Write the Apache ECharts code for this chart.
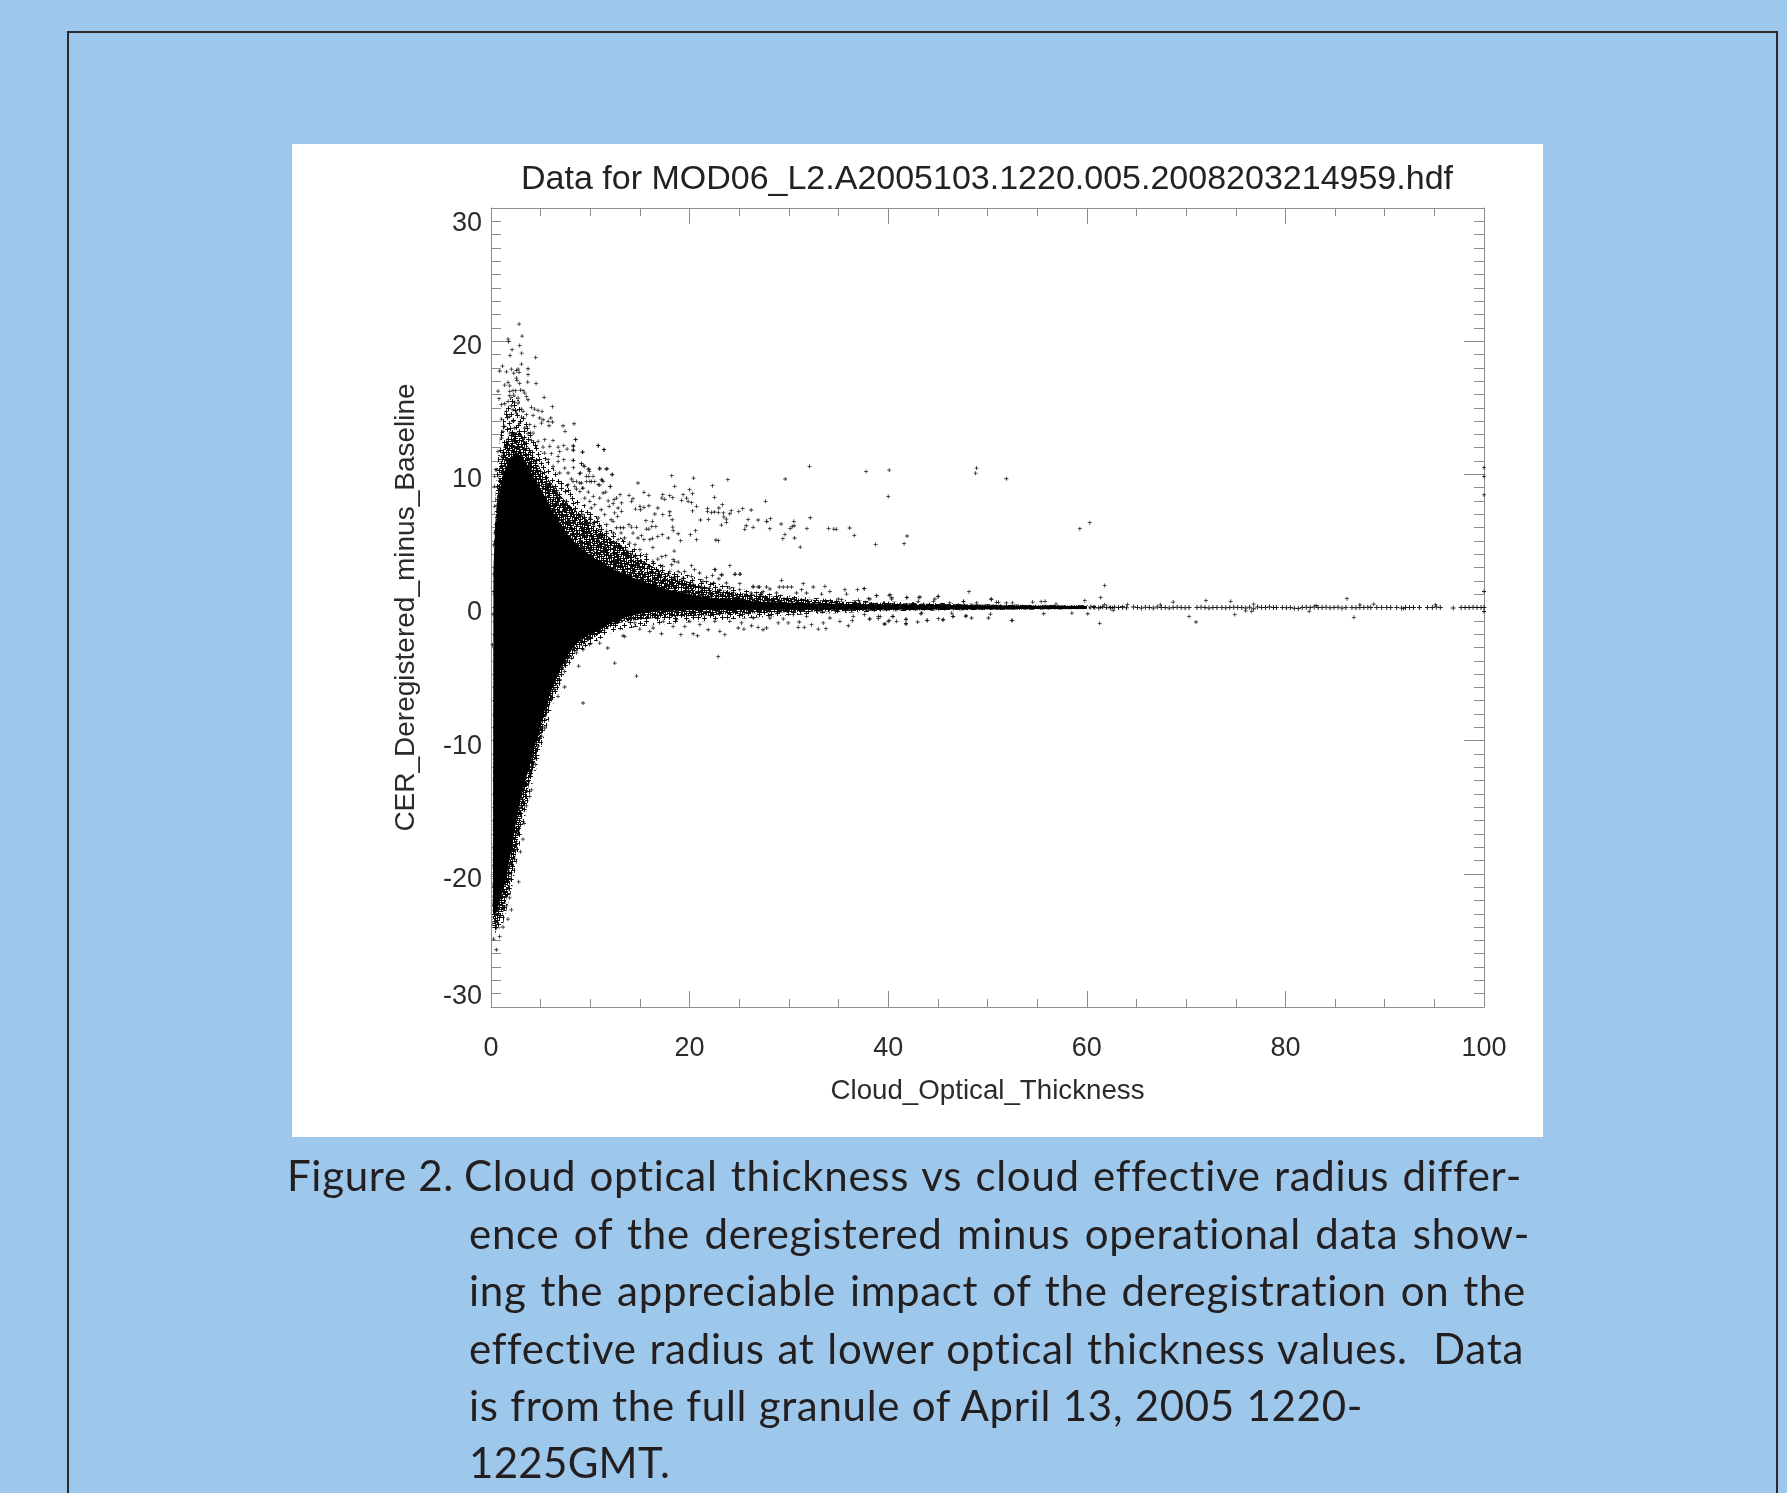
<!DOCTYPE html>
<html>
<head>
    <meta charset="utf-8">
    <title>Figure 2</title>
    <script src="https://cdn.jsdelivr.net/npm/echarts@6/dist/echarts.min.js"></script>
    <style>
        html, body { margin: 0; height: 100%; overflow: hidden; background: #9ec8eb; }
        #frame { position: absolute; left: 67px; top: 31px; width: 1707px; height: 2000px; border: 2px solid #2a2a2e; }
        #paper { position: absolute; left: 292px; top: 144px; width: 1251px; height: 993px; background: #fff; }
        #chart { position: absolute; left: 0; top: 0; width: 1787px; height: 1493px; }
        .cap { position: absolute; font-family: Lato, sans-serif; font-size: 42px; letter-spacing: 0.7px; line-height: 58px; height: 58px; color: #231f20; white-space: pre; }
        .fit { text-align-last: justify; }
    </style>
</head>
<body>
    <div id="frame"></div>
    <div id="paper"></div>
    <div id="chart"></div>
    <div class="cap" style="left:287px;top:1146px">Figure 2.</div>
    <div class="cap fit" style="left:464px;top:1146px;width:1058px">Cloud optical thickness vs cloud effective radius differ-</div>
    <div class="cap fit" style="left:469px;top:1204px;width:1061px">ence of the deregistered minus operational data show-</div>
    <div class="cap fit" style="left:469px;top:1261px;width:1057px">ing the appreciable impact of the deregistration on the</div>
    <div class="cap fit" style="left:469px;top:1319px;width:1055px">effective radius at lower optical thickness values.  Data</div>
    <div class="cap fit" style="left:469px;top:1376px;width:894px">is from the full granule of April 13, 2005 1220-</div>
    <div class="cap" style="left:469px;top:1433px;letter-spacing:0.3px">1225GMT.</div>

    <script>
        const titleText = 'Data for MOD06_L2.A2005103.1220.005.2008203214959.hdf';
        const xName = 'Cloud_Optical_Thickness';
        const yName = 'CER_Deregistered_minus_Baseline';

        // edges of the part of the cloud that is solid black
        const solidUpperX = [0.25, 0.4, 0.7, 1.2, 1.8, 2.4, 3, 3.6, 4.2, 5, 5.6, 6.2, 7, 7.8, 8.6, 9.5, 10.6, 12, 13.5, 15, 16.5, 18, 19.5, 21, 23, 25, 27, 30, 33, 36, 40, 45, 50, 55, 60];
        const solidUpperY = [3, 5.5, 8, 10, 11, 11.6, 11.4, 10.8, 9.9, 8.9, 8.1, 7.2, 6.3, 5.4, 4.7, 4.2, 3.6, 3, 2.45, 2.05, 1.65, 1.32, 1.08, 0.85, 0.65, 0.52, 0.44, 0.36, 0.3, 0.26, 0.22, 0.18, 0.16, 0.14, 0.12];
        const solidLowerX = [0.2, 0.5, 1, 1.5, 2, 2.5, 3, 3.5, 4, 4.5, 5, 5.5, 6, 6.5, 7, 7.6, 8.6, 9.5, 10.5, 12, 13.5, 15, 17, 19, 21, 25, 30, 36, 45, 55, 60];
        const solidLowerY = [-23, -23, -21.8, -20.4, -18.4, -16.2, -14.3, -12.9, -11.6, -10.2, -8.8, -7.5, -6.4, -5.4, -4.6, -3.7, -2.7, -2.2, -1.8, -1.2, -0.75, -0.46, -0.25, -0.2, -0.18, -0.18, -0.17, -0.16, -0.15, -0.12, -0.11];

        // edges of the closely packed zone around it
        const packedUpperX = [0.3, 0.4, 0.8, 1.3, 2, 3, 3.8, 5, 6, 7, 8, 10, 11.3, 13, 14.65, 16, 18, 20, 21.4, 24.7, 28, 32, 36, 40, 45, 50, 60];
        const packedUpperY = [3, 6, 10.2, 12.2, 13.2, 13.1, 12, 10.4, 9.4, 8.4, 7.6, 6.4, 5.6, 4.7, 3.8, 3.2, 2.4, 1.9, 1.55, 1.1, 0.85, 0.6, 0.42, 0.34, 0.26, 0.2, 0.14];
        const packedLowerX = [0.15, 0.5, 1.2, 2.2, 3, 3.8, 4.6, 5.4, 6.2, 7.2, 8.2, 9.5, 10.5, 12, 13, 15, 18, 20, 24, 28, 32, 38, 45, 60];
        const packedLowerY = [-24, -24, -23, -19.8, -16.2, -13.4, -11, -8.6, -6.6, -4.7, -3.5, -2.65, -2.2, -1.5, -1.15, -0.9, -0.7, -0.65, -0.5, -0.4, -0.32, -0.24, -0.18, -0.12];

        // edges of the loose speckled zone outside that
        const looseUpperX = [0.3, 0.6, 1, 1.6, 2.2, 2.8, 3.4, 4, 5, 6, 7, 8, 9, 10, 11, 12, 13, 14, 15, 16, 18, 20, 22, 25, 28, 32, 36, 40, 45, 50, 60, 64];
        const looseUpperY = [6, 10.5, 13.4, 15.4, 16, 15.6, 14.4, 13.2, 11.8, 10.8, 9.8, 9, 8.1, 7.3, 6.6, 5.9, 5.3, 4.7, 4.2, 3.7, 2.9, 2.4, 1.95, 1.4, 1.05, 0.75, 0.55, 0.45, 0.35, 0.25, 0.17, 0.1];
        const looseLowerX = [0.15, 0.5, 1.2, 2.2, 3, 3.8, 4.6, 5.4, 6.2, 7.2, 8.2, 9.5, 10.5, 12, 13, 15, 20, 24, 28, 32, 40, 50, 64];
        const looseLowerY = [-24.4, -24.4, -23.8, -20.8, -17.4, -14.4, -12, -9.6, -7.4, -5.3, -3.9, -3, -2.6, -1.95, -1.7, -1.4, -1.1, -0.9, -0.7, -0.5, -0.28, -0.18, -0.1];

        // single dots
        const topSpeckle = [[2.83,21.28],[3.13,20.38],[1.72,20.16],[1.78,19.96],[2.89,19.68],[2.12,19.36],[3.09,19.1],[1.92,18.93],[4.5,18.78],[1.15,18.13],[3.06,18.28],[2.05,17.9],[2.56,17.8],[2.73,17.9],[0.88,17.76],[1.55,17.7],[2.29,17.6],[2.83,17.66],[3.73,17.93],[3.73,17.48],[2.56,17.23],[2.62,17.05],[3.7,16.93],[4.54,16.83],[2.89,16.83],[1.38,16.7],[1.72,16.9],[0.71,16.25],[1.89,16.65],[1.89,16.23],[2.22,16.28],[2.49,16.28],[2.96,16.33],[3.23,16.28],[3.4,16.1],[1.89,15.9],[2.29,15.95],[2.73,15.73],[3.56,15.85],[3.73,15.6],[5.35,15.78],[0.81,15.68],[1.38,15.3],[1.72,15.48],[2.39,15.4],[2.73,15.35],[1.05,15.23],[2.05,15.15],[6.18,15.08],[4.07,15.03],[4.4,14.9],[4.74,14.8],[5.14,14.73],[3.06,14.9],[3.23,14.73],[2.22,14.85],[1.55,14.73],[2.56,14.6],[3.56,14.48],[4.24,14.43],[1.89,14.35],[3.06,14.3],[1.05,14.15],[4.91,14.23],[5.24,14.1],[6.02,14.23],[5.75,13.98],[6.18,13.93],[5.08,13.85],[5.85,13.65],[8.37,13.8],[7.26,13.65],[2.22,13.98],[2.89,13.85],[3.9,13.73],[4.4,13.6],[1.38,13.6],[3.4,13.48],[2.39,13.48],[7.46,13.23],[4.24,13.1],[3.73,13.05],[1.21,13.23],[1.89,13.1],[2.89,12.98],[8.54,12.63],[1.05,12.73],[5.41,12.6],[6.25,12.55],[4.74,12.48],[4.07,12.55],[7.33,12.17],[8.27,12.15],[10.79,12.17],[11.36,11.85],[6.76,12.05],[5.92,12.1],[5.24,12.05],[8.27,11.83],[7.66,11.9],[9.24,11.67],[6.92,11.72],[6.08,11.55],[5.41,11.6],[6.76,11.35],[0.71,11.72],[1.05,11.35],[7.33,11.1],[8.27,11.05],[6.76,10.97],[5.75,11.1],[9.11,10.8],[9.44,10.6],[9.88,10.35],[9.01,10.1],[7.43,10.47],[11.69,10.42],[10.95,10.4],[12.2,9.97],[6.25,10.6],[7.76,10.1],[6.92,10.1],[9.85,9.85],[10.28,9.85],[9.61,9.47],[10.12,9.47],[8.27,9.47],[8.94,9.35],[8.44,9.1],[11.12,9.6],[11.29,9.47],[10.79,9.22],[12.03,9.07],[7.76,9.22],[9.27,8.97],[0.54,10.35],[0.37,9.85],[0.47,10.35],[0.37,9.1],[0.37,7.6],[0.37,5.6],[0.27,4.7],[0.3,2.5],[0.28,1.2],[0.2,-0.5],[0.15,-2.8]];

        const midSpeckle = [[8.5,12.6],[8.3,12.1],[8.3,11.8],[10.8,12.15],[11.4,11.85],[9.2,11.67],[8.3,11.05],[8.3,10.5],[9.1,10.8],[9.3,10.65],[9.8,10.4],[9.9,10.2],[10.95,10.47],[11.6,10.4],[12.2,10],[8.9,10.05],[9.6,9.85],[9.95,9.47],[10.45,9.47],[11.2,9.55],[10.95,9.2],[12,9.1],[14.8,9.35],[18.2,9.9],[20.4,9.72],[23.85,9.6],[18.5,9.1],[22.3,9.15],[20,8.85],[20.3,8.55],[22.5,8.27],[27.65,7.97],[15.4,8.65],[15.9,8.42],[17.3,8.47],[17.2,8.22],[17.5,8.12],[18,8.4],[18.3,8.25],[19.35,8.47],[19.7,8.22],[19.2,8.05],[19.85,7.97],[20.2,7.87],[20.7,7.6],[20.3,7.25],[21.8,7.42],[21.8,7.2],[22.2,7.14],[22.5,7.17],[22.95,7.47],[23.3,7.72],[22.9,7.14],[23.4,7.1],[23.45,6.8],[24.2,7.27],[24.05,7.04],[24.95,7.2],[25.35,7.42],[26.2,7.32],[21.1,6.57],[21.9,6.6],[23.7,6.64],[23.7,6.39],[23.2,6.19],[25.9,6.6],[26.9,6.57],[27.75,6.47],[25.7,6.14],[25.55,5.87],[26.4,6.02],[13.9,8.42],[14.3,8.17],[14.15,7.97],[14.55,7.39],[15,7.6],[15.05,7.34],[15.4,7.52],[15.9,7.64],[16.8,7.47],[16.5,7.02],[17.3,6.97],[18,7.19],[18,6.92],[18.25,6.59],[15.6,6.52],[16.25,6.47],[16.2,6.09],[16.6,6.09],[15.65,5.89],[15.9,5.89],[18.3,6.04],[18.35,5.77],[20.6,5.77],[18.85,5.54],[20.1,5.47],[16.8,5.34],[17.25,5.47],[17.85,5.22],[19.1,5.02],[20.7,5.09],[22.65,5.07],[22.9,5.02],[12.65,5.99],[13.05,5.99],[13.35,5.99],[13.9,6.22],[14.15,6.04],[14.65,6.02],[14.3,5.59],[13.1,5.6],[15.15,5.39],[14.8,5.22],[15.4,5.09],[16,5.09],[16.25,5.19],[16.3,4.5],[18.45,4.24],[17.6,3.89],[17.2,3.82],[16.8,3.64],[18.35,3.59],[18.85,3.41],[18.2,3.21],[20.2,3.14],[24.05,3.14],[22.6,2.84],[22.3,2.41],[23.25,2.44],[24.55,2.49],[25.05,2.51],[21.7,2.26],[22.95,2.16],[9.8,8.67],[11.3,8.6],[11.55,8.67],[11.8,8],[13,8.47],[12.65,8.22],[12.4,8.1],[13.15,7.85],[12.3,7.8],[12.8,7.47],[11.9,7.6],[13.15,7.22],[12.45,7.1],[12.75,6.84],[12.1,6.59],[12.3,6.47],[11.65,6.22],[10.95,8.22],[10.3,8.35],[10.45,7.72],[9.95,7.97],[9.45,8.22],[8.95,8.72],[8.6,8.9],[9.1,9.35],[8.6,9.47],[8.1,9.65],[9.2,8.97],[10.1,7.47],[11.1,7.34],[11.45,6.97],[10.8,6.72],[9.95,6.72],[9.25,6.97],[10.95,6.09],[10.3,6.34],[11.65,5.72],[12.3,5.59],[11.1,5.34],[11.95,5.09],[12.8,5.09],[13.45,5.22],[13.95,4.84],[14.5,4.72],[13,4.59],[15,4.34],[13.8,4.2],[15.65,3.97],[14.5,3.84],[16.3,3.47],[15.15,3.47],[17.3,3.09],[15.85,3.09],[18,2.71],[18.85,2.71],[19.5,2.71],[20.5,2.84],[21,2.59],[20.2,2.34],[19.35,2.21],[18.35,2.21],[21.35,1.96],[22.4,1.84],[23.7,1.84],[25.05,1.79],[26.4,1.59],[27.05,1.54],[27.75,1.54],[27.4,1.21],[26.2,1.09],[25.05,1.34],[24.05,1.46],[23.05,1.34],[22,1.46],[21.2,1.46],[20.35,1.71]];

        const farSpeckle = [[32.08,10.6],[29.63,9.65],[37.77,10.22],[40.1,10.32],[40,8.34],[48.8,10.09],[48.9,10.47],[51.9,9.67],[59.3,5.92],[60.3,6.37],[27.78,6.47],[28.15,6.67],[28.08,5.92],[29.22,6.27],[30.5,6.47],[30.53,6.14],[30.33,6.09],[30.13,5.94],[32.15,6.74],[31.81,5.94],[34,5.94],[34.53,5.89],[34.77,5.87],[36.12,5.97],[36.58,5.42],[29.6,5.49],[29.39,5.17],[30.57,5.22],[31.14,4.54],[38.73,4.74],[41.6,4.79],[41.9,5.37],[100,10.5],[100,9.85],[100,8.45],[100,1.2],[100,-0.3]];

        const nearZeroUpper = [[18.5,3.47],[22.5,2.84],[24.6,2.51],[25.1,2.51],[23.2,2.46],[29.26,2.04],[31.45,1.79],[26.4,1.54],[26.9,1.54],[29.03,1.54],[29.43,1.54],[29.87,1.54],[30.27,1.54],[32.45,1.54],[33.63,1.59],[36.9,1.34],[37.56,1.41],[48.14,1.19],[34.13,1.21],[35.64,1.34],[28.09,1.39],[31.28,1.34],[27.25,1.09],[28.76,1.09],[30.77,1.09],[31.78,1.09],[33.29,1.01],[35.81,1.01],[38.84,0.89],[40.18,0.96],[41.86,0.76],[43.2,0.79],[45.05,0.84],[40.35,0.64],[50.36,0.64],[44.7,0.64],[43.03,0.46],[34.97,0.64],[35.31,0.59],[36.99,0.54],[38.16,0.64],[47.57,0.46],[51.1,0.39],[46.2,0.34],[48.9,0.34],[51.9,0.34],[37.6,1.41],[61.8,1.66],[61.4,0.76],[59.8,0.51],[50.4,0.61],[72,0.53],[68.7,0.41],[74.5,0.46],[86.2,0.66],[38.8,0.89],[40.1,0.91],[41.9,0.76],[43.1,0.76],[45,0.81],[44.55,0.46],[38,0.66],[40.36,0.76],[47.6,0.44],[50.9,0.39],[52.5,0.34],[54.55,0.41],[55.8,0.46],[55.4,0.44],[56.9,0.26],[61.8,0.21],[64.1,0.21],[67.4,0.2],[83.1,0.15],[76.8,0.25],[87.5,0.2],[88.9,0.25],[95.1,0.2]];

        const nearZeroLower = [[22.88,-3.69],[35.98,-1.37],[13.3,-2.12],[13.47,-2.17],[14.99,-1.62],[15.99,-1.79],[17.17,-1.97],[19.12,-2.04],[20.8,-2.12],[23.55,-2.04],[20.36,-1.97],[21.87,-1.67],[23.05,-1.79],[24.9,-1.54],[25.47,-1.62],[26.9,-1.49],[27.75,-1.54],[26.24,-1.37],[27.4,-1.67],[30.94,-1.49],[31.55,-1.49],[32.96,-1.62],[33.73,-1.59],[32.28,-1.29],[29.93,-1.16],[28.93,-1.16],[31.04,-1.09],[33.46,-1.16],[35.14,-1.04],[36.38,-0.99],[38.16,-0.86],[39.67,-1.24],[40,-1.04],[40.85,-1.04],[41.79,-1.21],[41.79,-0.91],[42.97,-1.09],[43.94,-0.96],[45.05,-0.84],[45.55,-0.91],[47.8,-0.66],[48.4,-0.79],[50.09,-0.79],[52.44,-0.96],[46.56,-0.66],[16.33,-1.54],[18.34,-1.42],[19.52,-1.42],[21.03,-1.29],[24.05,-1.04],[25.23,-1.16],[14.48,-1.16],[17.34,-1.04],[18.68,-0.91],[20.02,-1.04],[22.54,-1.04],[26.41,-0.79],[28.09,-0.79],[29.43,-0.86],[30.44,-0.54],[31.78,-0.66],[34.13,-0.79],[36.48,-0.66],[39,-0.66],[40.5,-0.66],[43.37,-0.41],[39.6,-1.24],[40.1,-0.97],[40.4,-0.67],[38.1,-0.87],[39,-0.84],[41.8,-1.24],[41.8,-0.87],[43.9,-0.97],[45.5,-0.94],[46.5,-0.67],[47.85,-0.62],[50.3,-0.49],[55.66,-0.47],[58.5,-0.42],[60.1,-0.47],[62.65,-0.21],[37.6,-0.54],[39.2,-0.67],[43.3,-0.47],[46.4,-0.42],[52.5,-0.97],[61.3,-1.19],[70.3,-0.67],[71,-1.09],[74.9,-0.52],[86.9,-0.74],[82.4,-0.29],[76.6,-0.29],[76,-0.25],[91.9,-0.09]];

        const lowSpeckle = [[12.46,-4.17],[14.65,-5.15],[9.27,-7.17],[8.83,-4.4],[11.76,-3.04],[7.42,-5.97],[6.75,-6.67],[2.79,-20.6],[2.05,-22.7],[0.54,-25.7],[1.71,-23.4],[0.87,-24.7],[0.27,-24.9],[3.22,-17.4],[2.96,-18.35],[3.9,-14.2],[4.06,-13.7],[4.5,-11.8],[4.74,-10.4],[9.27,-3.17],[8.6,-3.4],[8.1,-3.8],[10.95,-2.67],[9.94,-2.79],[3.33,-16.2],[3.06,-14.9],[3.56,-14.9],[2.55,-16.9],[2.39,-18.9],[1.88,-19.9],[1.88,-21.8],[1.55,-22.4],[1.21,-24],[0.54,-24.05],[5.58,-7.9],[5.41,-9.05],[5.07,-9.67],[6.08,-6.92],[6.42,-6.17],[6.92,-5.42],[7.42,-4.8]];

        // the thin dotted row along zero at high optical thickness
        const zeroRow = [[60.4,0.04],[60.8,0],[61.2,-0.04],[61.6,0.03],[62,0],[62.4,-0.03],[62.8,0.02],[63.2,0],[63.6,0.02],[64,-0.02],[64.7,0.03],[65.1,0],[65.5,-0.03],[65.9,0.02],[66.3,0],[66.7,-0.04],[67.1,0.03],[67.5,0],[67.9,0],[68.3,-0.03],[68.7,0],[69.1,0.02],[69.5,0],[69.9,-0.02],[70.3,0],[71.1,0],[71.5,0.02],[71.9,0],[72.3,-0.03],[72.7,0],[73.1,0],[73.6,0],[74,-0.02],[74.4,0],[74.8,0.02],[75.2,0],[75.6,0],[76,-0.04],[76.4,0.02],[76.8,-0.1],[77.2,0.03],[77.6,0],[78,0],[78.4,0.03],[78.8,0],[79.1,0],[79.7,0],[80.1,-0.02],[80.5,0],[80.9,-0.05],[81.3,-0.07],[81.7,0],[82.1,0.02],[82.5,0],[82.9,0.04],[83.3,0],[83.7,0],[84.1,0.02],[84.5,-0.02],[84.9,0],[85.3,0.02],[85.7,-0.03],[86.1,0],[86.7,0],[87.1,-0.02],[87.5,0],[87.9,0],[88.3,0.02],[88.6,0],[89.2,0],[89.7,0],[90.2,0],[90.6,0],[91.2,0],[91.7,-0.03],[92.1,0],[92.5,0],[92.9,0],[93.5,0],[94.3,0],[94.8,0],[95.2,0.03],[95.6,0],[96.9,-0.03],[97.7,0],[98.1,0],[98.5,0],[98.9,0.02],[99.3,0],[99.7,0],[100,0]];

        const xTicks = { min: 0, max: 100, interval: 20, minorSplit: 4 };
        const yTicks = { min: -30, max: 30, interval: 10, minorSplit: 10 };

        const axisGray = '#8c8c8c';
        const textColor = '#2b2b2b';
        const plusSymbol = 'path://M2 0h1v5H2zM0 2h5v1H0z';

        // fill for the zones where single dots can't be told apart
        const speckleSpots = [[2,3],[8,1],[15,5],[21,2],[26,6],[4,9],[11,8],[18,11],[24,12],[1,15],[7,16],[14,14],[20,17],[27,18],[4,21],[10,23],[16,20],[23,24],[2,28],[8,29],[14,26],[19,29],[26,28],[6,5],[13,11],[22,7],[17,25],[5,25],[10,18],[25,22]];

        function speckleTile(w, h) {
            const c = document.createElement('canvas');
            c.width = w; c.height = h;
            const g = c.getContext('2d');
            g.fillStyle = 'rgba(0,0,0,0.9)';
            speckleSpots.forEach(s => {
                const px = Math.round(s[0] * w / 29), py = Math.round(s[1] * h / 31);
                [-w, 0, w].forEach(dx => [-h, 0, h].forEach(dy => {
                    g.fillRect(px + dx - 2, py + dy, 5, 1);
                    g.fillRect(px + dx, py + dy - 2, 1, 5);
                }));
            });
            return c;
        }

        function closedOutline(upX, upY, lowX, lowY) {
            const pts = upX.map((x, i) => [x, upY[i]]);
            for (let i = lowX.length - 1; i >= 0; i--) pts.push([lowX[i], lowY[i]]);
            return pts;
        }

        function blobSeries(outline, fill) {
            return {
                type: 'custom',
                coordinateSystem: 'cartesian2d',
                silent: true,
                data: [0],
                renderItem: function (params, api) {
                    return {
                        type: 'polygon',
                        shape: { points: outline.map(p => api.coord(p)) },
                        style: { fill: fill }
                    };
                }
            };
        }

        function dotSeries(points, size) {
            return {
                type: 'scatter',
                data: points,
                symbol: plusSymbol,
                symbolSize: size,
                itemStyle: { color: '#000', opacity: 0.85 },
                silent: true,
                animation: false
            };
        }

        function xAxis(position, showLabel) {
            return {
                type: 'value', position: position, min: xTicks.min, max: xTicks.max, interval: xTicks.interval,
                name: showLabel ? xName : '', nameLocation: 'middle', nameGap: 70,
                nameTextStyle: { fontFamily: 'Liberation Sans', fontSize: 27.7, color: textColor },
                axisLine: { show: true, onZero: false, lineStyle: { color: axisGray, width: 1 } },
                axisTick: { show: true, inside: true, length: 16, lineStyle: { color: axisGray } },
                minorTick: { show: true, splitNumber: xTicks.minorSplit, length: 8, lineStyle: { color: axisGray } },
                splitLine: { show: false },
                axisLabel: { show: showLabel, margin: 28, fontFamily: 'Liberation Sans', fontSize: 27, color: textColor, showMinLabel: true, showMaxLabel: true }
            };
        }

        function yAxis(position, showLabel) {
            const labelFont = { fontFamily: 'Liberation Sans', fontSize: 27, color: textColor };
            return {
                type: 'value', position: position, min: yTicks.min, max: yTicks.max, interval: yTicks.interval,
                name: showLabel ? yName : '', nameLocation: 'middle', nameGap: 71, nameRotate: 90,
                nameTextStyle: { fontFamily: 'Liberation Sans', fontSize: 28, color: textColor },
                axisLine: { show: true, onZero: false, lineStyle: { color: axisGray, width: 1 } },
                axisTick: { show: true, inside: true, length: 20, lineStyle: { color: axisGray } },
                minorTick: { show: true, splitNumber: yTicks.minorSplit, length: 10, lineStyle: { color: axisGray } },
                splitLine: { show: false },
                axisLabel: {
                    show: showLabel, margin: 9, fontFamily: 'Liberation Sans', fontSize: 27, color: textColor,
                    // labels sit a little below their ticks in the original, the end ones are pulled inside
                    formatter: v => {
                        if (v === yTicks.max) return '{top|' + v + '}';
                        if (v === yTicks.min) return '{bottom|' + v + '}';
                        return '{low|' + v + '}';
                    },
                    rich: {
                        low: Object.assign({ padding: [11, 0, 0, 0] }, labelFont),
                        top: Object.assign({ padding: [2, 0, 0, 0] }, labelFont),
                        bottom: Object.assign({ lineHeight: 20 }, labelFont)
                    },
                    showMinLabel: true, showMaxLabel: true,
                    verticalAlignMaxLabel: 'top', verticalAlignMinLabel: 'bottom'
                }
            };
        }

        const chart = echarts.init(document.getElementById('chart'));
        chart.setOption({
            animation: false,
            backgroundColor: 'transparent',
            title: {
                text: titleText, left: 982, top: 158, textAlign: 'center',
                textStyle: { fontFamily: 'Liberation Sans', fontSize: 34, fontWeight: 'normal', color: '#222' }
            },
            grid: { left: 491, top: 208, width: 993, height: 799, containLabel: false },
            xAxis: [xAxis('bottom', true), xAxis('top', false)],
            yAxis: [yAxis('left', true), yAxis('right', false)],
            series: [
                blobSeries(closedOutline(looseUpperX, looseUpperY, looseLowerX, looseLowerY), { image: speckleTile(29, 31), repeat: 'repeat' }),
                blobSeries(closedOutline(packedUpperX, packedUpperY, packedLowerX, packedLowerY), { image: speckleTile(17, 19), repeat: 'repeat' }),
                blobSeries(closedOutline(solidUpperX, solidUpperY, solidLowerX, solidLowerY), '#000'),
                dotSeries(topSpeckle, 4),
                dotSeries(midSpeckle, 4),
                dotSeries(farSpeckle, 4),
                dotSeries(nearZeroUpper, 4),
                dotSeries(nearZeroLower, 4),
                dotSeries(lowSpeckle, 4),
                dotSeries(zeroRow, 5)
            ]
        });
    </script>
</body>
</html>
